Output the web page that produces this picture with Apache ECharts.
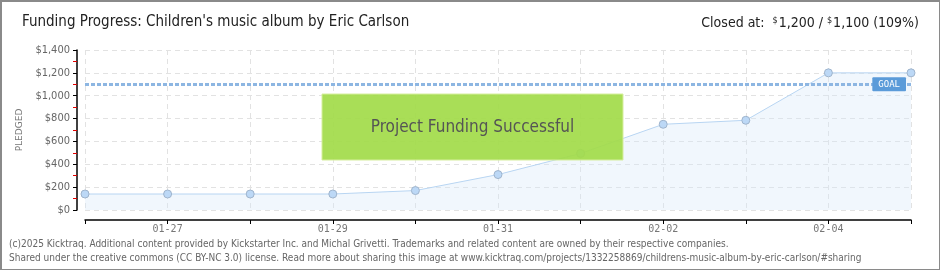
<!DOCTYPE html>
<html><head><meta charset="utf-8">
<script src="https://cdn.jsdelivr.net/npm/echarts@6/dist/echarts.min.js"></script>
<style>html,body{margin:0;padding:0;background:#fff}#c{width:940px;height:270px;box-sizing:border-box;border:2px solid #8a8a8a;border-bottom-width:1px;border-right-width:1px}</style>
</head><body><div id="c"></div>
<script>
const categories = ['01-26','01-27','01-28','01-29','01-30','01-31','02-01','02-02','02-03','02-04','02-05'];
const pledged = [140, 140, 140, 140, 170, 310, 495, 750, 785, 1200, 1200];
const goal = 1100;
const yTicks = [0, 200, 400, 600, 800, 1000, 1200, 1400];
const titleText = "Funding Progress: Children's music album by Eric Carlson";
const closedText = 'Closed at: ';
const footer1 = '(c)2025 Kicktraq. Additional content provided by Kickstarter Inc. and Michal Grivetti. Trademarks and related content are owned by their respective companies.';
const footer2 = 'Shared under the creative commons (CC BY-NC 3.0) license. Read more about sharing this image at www.kicktraq.com/projects/1332258869/childrens-music-album-by-eric-carlson/#sharing';

const chart = echarts.init(document.getElementById('c'), null, {renderer:'canvas'});
const fmt = v => '$' + v.toLocaleString('en-US');
const titleFont = '"Liberation Sans Narrow","DejaVu Sans Condensed",sans-serif';
chart.setOption({
  animation:false,
  grid:{left:83, right:28, top:48, bottom:59, containLabel:false},
  xAxis:{
    type:'category', data:categories, boundaryGap:false, offset:10,
    axisLine:{onZero:false, lineStyle:{color:'#000', width:1.5}},
    axisTick:{interval:0, inside:false, length:4, lineStyle:{color:'#000'}},
    axisLabel:{interval:(i)=>i%2===1, color:'#777', fontSize:10, fontFamily:'"DejaVu Sans Mono",monospace', margin:4},
    splitLine:{show:true, interval:0, lineStyle:{type:[5,4], color:'#e2e2e2'}}
  },
  yAxis:{
    type:'value', min:yTicks[0], max:yTicks[yTicks.length-1], interval:200, offset:8,
    name:'PLEDGED', nameLocation:'middle', nameGap:48, nameRotate:90,
    nameTextStyle:{color:'#777', fontSize:9, fontFamily:'"DejaVu Sans",sans-serif'},
    axisLine:{show:true, onZero:false, lineStyle:{color:'#000', width:1.5}},
    axisTick:{show:true, length:4, lineStyle:{color:'#000'}},
    minorTick:{show:true, splitNumber:2, length:4, lineStyle:{color:'#e00000', width:1}},
    axisLabel:{formatter:fmt, color:'#666', fontSize:11, fontFamily:'"DejaVu Sans Condensed",sans-serif', margin:7},
    splitLine:{show:true, lineStyle:{type:[5,4], color:'#e2e2e2'}}
  },
  series:[{
    type:'line', data:pledged, symbol:'circle', symbolSize:8,
    itemStyle:{color:'#bcd8f6', borderColor:'#9fb4cc', borderWidth:1},
    lineStyle:{color:'#b8d5f2', width:1},
    areaStyle:{color:'rgba(214,232,250,0.5)'},
    z:3,
    markLine:{
      silent:true, symbol:'none',
      data:[{yAxis:goal}],
      lineStyle:{color:'#8db6e2', type:[4,2], width:3},
      label:{show:true, position:'insideEnd', formatter:'GOAL', color:'#fff', backgroundColor:'#5b9bd9',
        fontSize:9, fontFamily:'"DejaVu Sans Mono",monospace', padding:[3,6,2,6], borderRadius:1, distance:[5,-7]}
    }
  }],
  graphic:[
    {type:'text', left:20, top:13, style:{text:titleText, fill:'#222', font:'15px '+titleFont}},
    {type:'text', right:20, top:14, style:{rich:{
      a:{fontSize:14, fontFamily:titleFont, fill:'#222'},
      d:{fontSize:9, fontFamily:titleFont, fill:'#222', verticalAlign:'top', padding:[0,1,6,0]}
    }, text:'{a|'+closedText+' }{d|$}{a|1,200 / }{d|$}{a|1,100 (109%)}'}},
    {type:'rect', z:10, shape:{x:320, y:92, width:301, height:66}, style:{fill:'rgba(163,219,74,0.93)', stroke:'#d6ee9e', lineWidth:1}},
    {type:'text', z:11, x:470.5, y:126, style:{text:'Project Funding Successful', fill:'#555', font:'17px '+titleFont, align:'center', verticalAlign:'middle', textShadowColor:'#fff', textShadowOffsetX:1, textShadowOffsetY:1, textShadowBlur:0}},
    {type:'text', left:7, top:237, style:{text:footer1, fill:'#666', font:'10px "DejaVu Sans Condensed",sans-serif'}},
    {type:'text', left:7, top:251, style:{text:footer2, fill:'#666', font:'10px "DejaVu Sans Condensed",sans-serif'}}
  ]
});
</script></body></html>
